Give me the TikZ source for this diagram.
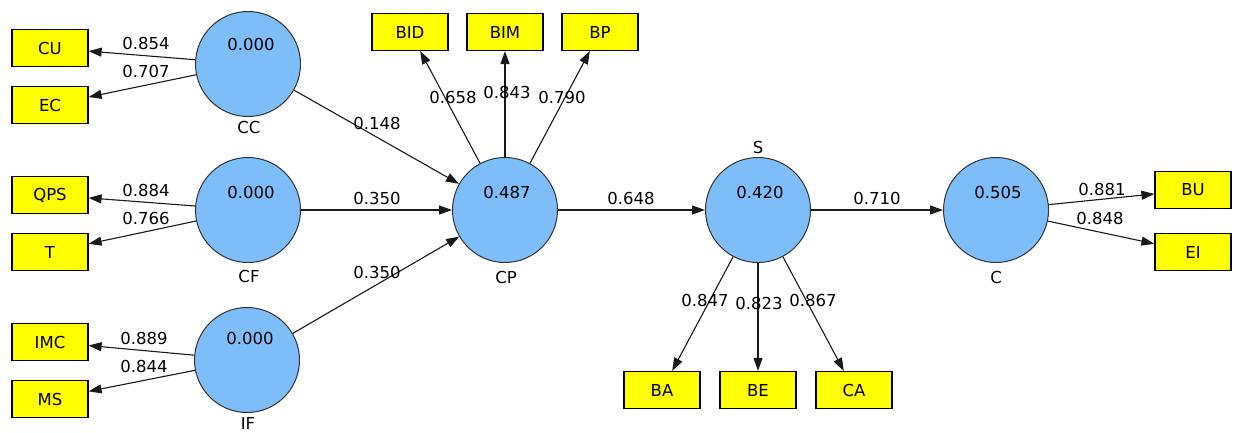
\documentclass[tikz,border=0pt]{standalone}
\usepackage{fontspec}
\setmainfont{DejaVu Sans}
\usetikzlibrary{arrows.meta}
\definecolor{lvblue}{RGB}{125,190,250}
\definecolor{mvyellow}{RGB}{255,255,0}
\newcommand{\mfs}{\fontsize{16.5}{19}\selectfont}
\begin{document}
\begin{tikzpicture}[x=1pt,y=-1pt,
 lv/.style={circle,draw=black!80,fill=lvblue,line width=1pt,minimum size=105pt,inner sep=0pt},
 mv/.style={rectangle,draw=black,fill=mvyellow,line width=1.2pt,minimum width=76pt,minimum height=37pt,inner sep=0pt,font=\mfs},
 txt/.style={inner sep=0pt,font=\mfs},
 arr/.style={-{Triangle[length=13pt,width=9pt]},line width=1.1pt,black!90}]
\useasboundingbox[fill=white] (0,0) rectangle (1236,432);
% latent variables
\node[lv] (cc) at (248,64) {};
\node[lv] (cf) at (248,210) {};
\node[lv] (ifn) at (247,360) {};
\node[lv] (cp) at (505,210) {};
\node[lv] (s) at (758,210) {};
\node[lv] (c) at (996,210) {};
% values
\node[txt] (ccv) at (251,44) {0.000};
\node[txt] (cfv) at (251,192) {0.000};
\node[txt] (ifv) at (250,338) {0.000};
\node[txt] (cpv) at (507,192) {0.487};
\node[txt] (sv) at (760,192) {0.420};
\node[txt] (cv) at (998,192) {0.505};
% names
\node[txt] (ccl) at (249,127) {CC};
\node[txt] (cfl) at (249,276) {CF};
\node[txt] (ifl) at (248,423) {IF};
\node[txt] (cpl) at (506,277) {CP};
\node[txt] (sl) at (758,147) {S};
\node[txt] (cl) at (996,277) {C};
% indicators
\node[mv] (cu) at (50,48) {CU};
\node[mv] (ec) at (50,105) {EC};
\node[mv] (qps) at (50,195) {QPS};
\node[mv] (t) at (50,252) {T};
\node[mv] (imc) at (50,342) {IMC};
\node[mv] (ms) at (50,399) {MS};
\node[mv] (bid) at (410,32) {BID};
\node[mv] (bim) at (505,32) {BIM};
\node[mv] (bp) at (600,32) {BP};
\node[mv] (ba) at (662,390) {BA};
\node[mv] (be) at (758,390) {BE};
\node[mv] (ca) at (854,390) {CA};
\node[mv] (bu) at (1193,190) {BU};
\node[mv] (ei) at (1193,252) {EI};
% connectors
\draw[arr] (cc) -- (cu);
\draw[arr] (cc) -- (ec);
\draw[arr] (cf) -- (qps);
\draw[arr] (cf) -- (t);
\draw[arr] (ifn) -- (imc);
\draw[arr] (ifn) -- (ms);
\draw[arr] (cc) -- (cp);
\draw[arr] (cf) -- (cp);
\draw[arr] (ifn) -- (cp);
\draw[arr] (cp) -- (bid);
\draw[arr] (cp) -- (bim);
\draw[arr] (cp) -- (bp);
\draw[arr] (cp) -- (s);
\draw[arr] (s) -- (ba);
\draw[arr] (s) -- (be);
\draw[arr] (s) -- (ca);
\draw[arr] (s) -- (c);
\draw[arr] (c) -- (bu);
\draw[arr] (c) -- (ei);
% path labels
\node[txt] (l1) at (146,43) {0.854};
\node[txt] (l2) at (146,71) {0.707};
\node[txt] (l3) at (146,190) {0.884};
\node[txt] (l4) at (146,218) {0.766};
\node[txt] (l5) at (144,338) {0.889};
\node[txt] (l6) at (144,366) {0.844};
\node[txt] (l7) at (377,123) {0.148};
\node[txt] (l8) at (377,198) {0.350};
\node[txt] (l9) at (377,272) {0.350};
\node[txt] (l10) at (453,97) {0.658};
\node[txt] (l11) at (507,92) {0.843};
\node[txt] (l12) at (562,97) {0.790};
\node[txt] (l13) at (631,198) {0.648};
\node[txt] (l14) at (877,198) {0.710};
\node[txt] (l15) at (705,300) {0.847};
\node[txt] (l16) at (759,303) {0.823};
\node[txt] (l17) at (813,300) {0.867};
\node[txt] (l18) at (1102,189) {0.881};
\node[txt] (l19) at (1100,218) {0.848};
\end{tikzpicture}
\end{document}
